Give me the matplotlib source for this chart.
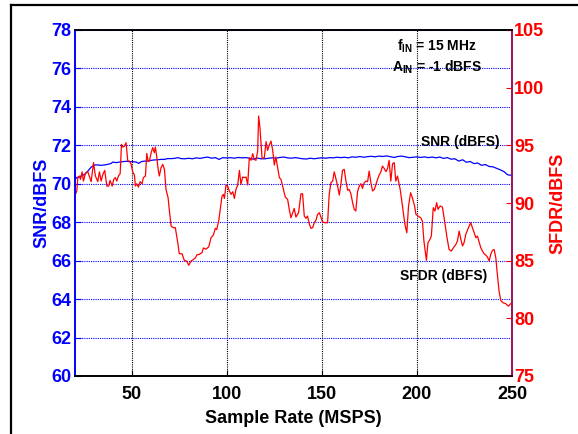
import matplotlib
matplotlib.use('Agg')
import matplotlib.pyplot as plt
from matplotlib.lines import Line2D

plt.rcParams['font.family'] = ['Liberation Sans', 'DejaVu Sans']
plt.rcParams['font.weight'] = 'bold'
plt.rcParams['axes.labelweight'] = 'bold'
plt.rcParams['mathtext.fontset'] = 'custom'
plt.rcParams['mathtext.rm'] = 'Liberation Sans:bold'
plt.rcParams['mathtext.bf'] = 'Liberation Sans:bold'

# SNR vs sample rate (left axis, dBFS)
snr_rate = [20, 21, 22.3, 23.5, 25.3, 27, 28.8, 30.5, 32.3, 34, 35.8, 37.5,
            39.3, 40.1, 41.9, 43.6, 45.4, 47.1, 48.9, 50.6, 52.4, 53.8, 55,
            56.8, 58.5, 60.3, 62, 63.8, 65.5, 67.3, 69, 70.8, 72.5, 74.3, 76,
            78, 80, 82, 84, 86, 88, 90, 92, 94, 96, 98, 100, 102, 104, 106,
            108, 110, 112, 114, 116, 118, 120, 122, 124, 126, 128, 130, 132,
            134, 136, 138, 140, 142, 144, 146, 148, 150, 152, 154, 156, 158,
            160, 162, 164, 166, 168, 170, 172, 174, 176, 178, 180, 182, 184,
            186, 188, 190, 192, 194, 196, 198, 200, 202, 204, 206, 208, 210,
            212, 214, 216, 218, 220, 222, 224, 226, 228, 230, 232, 234, 236,
            238, 240, 242, 244, 246, 247, 248, 250]
snr_db = [70.14, 70.32, 70.35, 70.4, 70.49, 70.66, 70.87, 70.98, 70.98, 70.96,
          70.98, 71.01, 71.06, 71.13, 71.1, 71.13, 71.15, 71.17, 71.15, 71.15,
          71.13, 71.06, 71.15, 71.18, 71.18, 71.22, 71.24, 71.25, 71.27, 71.27,
          71.31, 71.31, 71.32, 71.36, 71.31,
          71.3, 71.33, 71.3, 71.35, 71.32, 71.36, 71.39, 71.33, 71.36, 71.27,
          71.36, 71.34, 71.36, 71.33, 71.37, 71.35, 71.36, 71.33, 71.28, 71.34,
          71.3, 71.3, 71.33, 71.35, 71.33, 71.37, 71.39, 71.35, 71.33, 71.36,
          71.33, 71.3, 71.29, 71.33, 71.3, 71.33, 71.35, 71.33, 71.36, 71.35,
          71.38, 71.36, 71.38, 71.35, 71.4, 71.38, 71.42, 71.38, 71.41, 71.43,
          71.4, 71.44, 71.42, 71.45, 71.41, 71.37, 71.42, 71.44, 71.4, 71.36,
          71.38, 71.4, 71.37, 71.4, 71.36, 71.39, 71.35, 71.39, 71.32, 71.36,
          71.28, 71.3, 71.18, 71.25, 71.12, 71.16, 71.05, 71.08, 70.96, 71.0,
          70.9, 70.88, 70.8, 70.72, 70.62, 70.52, 70.46, 70.44]

# SFDR vs sample rate (right axis, dBFS)
sfdr_rate = [20, 20.5, 21.2, 21.75, 22.6, 23.15, 24.0, 24.7, 25.8, 27.0, 27.9,
             28.75, 30.0, 31.0, 32.25, 33.1, 34.0, 34.9, 35.9, 37.0, 38.0, 38.7,
             39.8, 40.65, 41.5, 42.2, 43.1, 44.0, 44.7, 45.4, 46.3, 47.1, 48.0,
             48.9, 49.8, 50.6, 51.5, 52.0, 52.7, 53.6, 54.5, 55.5, 56.2, 57.3,
             58.0, 58.7, 59.4, 60.3, 61.1, 62.0, 62.5, 63.2, 63.9, 64.6, 65.5,
             66.4, 67.3, 68.1, 69.2, 69.9, 70.8, 72.0, 73.0, 74.3, 75.1, 76.5,
             77.8, 79.0, 80.05, 81.3, 82.5, 83.6, 84.3, 85.65, 87.05, 87.75,
             89.15, 90.55, 91.8, 93.0, 94.05, 94.75, 95.8, 96.5, 97.55, 98.25,
             98.8, 99.65, 100.5, 101.4, 102.3, 103.2, 104.05, 104.9, 105.8,
             106.7, 107.5, 108.4, 109.3, 110.2, 111.05, 111.9, 112.8, 113.7,
             114.5, 115.4, 116.3, 116.8, 117.5, 118.6, 119.8, 120.7, 121.5,
             122.4, 123.3, 124.2, 125.05, 125.9, 126.8, 127.7, 128.55, 129.4,
             130.8, 132.05, 132.9, 133.8, 134.7, 135.5, 136.4, 137.8, 139.05,
             139.9, 140.8, 141.7, 142.5, 143.4, 144.3, 145.2, 146.05, 146.9,
             147.8, 148.7, 149.55, 150.4, 151.8, 153.05, 153.9, 154.8, 155.7,
             156.55, 157.4, 158.3, 159.2, 160.05, 160.9, 161.8, 162.7, 163.6,
             164.4, 165.3, 166.2, 167.06, 167.9, 168.8, 169.7, 170.6, 171.4,
             172.3, 173.2, 174.1, 174.9, 175.8, 176.7, 177.6, 178.4, 179.3,
             180.2, 181.1, 181.9, 182.8, 183.7, 184.6, 185.4, 186.3, 187.2,
             188.1, 188.9, 189.8, 191.3, 192.5, 193.7, 194.7, 195.6, 196.7,
             197.6, 198.8, 199.5, 200.6, 202.0, 202.9, 203.7, 205.0, 205.8,
             206.9, 207.6, 208.6, 209.5, 210.4, 211.1, 212.2, 213.4, 214.3,
             215.7, 216.9, 218.1, 219.2, 220.5, 221.3, 222.2, 223.1, 224.0,
             224.8, 225.7, 227.1, 228.3, 229.2, 230.1, 231.0, 231.8, 232.7,
             233.6, 234.5, 235.3, 236.2, 237.1, 238.0, 238.8, 239.7, 240.6,
             241.5, 242.3, 243.2, 244.1, 245.3, 246.7, 248.1, 249.3]
sfdr_db = [89.9, 90.75, 91.04, 92.2, 92.34, 92.05, 92.7, 91.9, 92.6, 92.7, 92.25,
           91.85, 93.5, 92.34, 91.85, 92.7, 91.9, 92.48, 92.83, 91.47, 91.47, 91.96,
           91.47, 92.05, 92.2, 91.9, 92.34, 92.54, 95.08, 94.85, 94.94, 95.23, 93.64,
           93.64, 93.35, 92.7, 92.43, 91.47, 91.67, 91.38, 91.85, 91.67, 92.2, 92.34,
           94.3, 93.64, 93.64, 94.36, 94.8, 94.36, 94.85, 94.07, 93.0, 92.34, 93.06,
           93.35, 92.9, 91.18, 90.46, 89.3, 88.0, 87.86, 87.86, 86.55, 85.6, 85.6,
           85.0, 84.97, 84.6, 84.97, 85.1, 85.25, 85.5, 85.55, 85.7, 86.1,
           86.0, 86.2, 87.0, 87.22, 87.8, 87.7, 88.43, 89.3, 90.6, 90.75,
           90.4, 91.56, 91.47, 91.04, 90.75, 90.98, 90.4, 91.18, 91.56,
           92.83, 91.62, 92.25, 92.2, 92.25, 91.56, 93.93, 93.7, 94.28,
           93.78, 93.7, 94.5, 97.54, 96.53, 93.87, 93.93, 95.32, 94.56,
           95.03, 95.37, 94.56, 93.29, 93.99, 93.06, 92.2, 92.05, 91.47,
           90.52, 90.31, 89.45, 88.72, 89.16, 89.53, 88.78, 89.16, 90.8,
           90.8, 88.87, 88.67, 88.87, 88.2, 87.8, 87.86, 88.29, 88.49,
           89.01, 89.16, 88.78, 88.35, 88.29, 88.29, 90.75, 91.76, 91.9,
           92.7, 92.13, 91.47, 90.69, 91.62, 92.83, 92.92, 91.9, 91.1,
           91.18, 90.8, 90.03, 89.45, 89.3, 90.98, 91.47, 91.67, 91.27,
           91.76, 91.9, 91.85, 92.77, 91.76, 91.04, 91.18, 91.56, 92.05,
           92.43, 92.72, 93.2, 93.0, 92.72, 93.0, 93.7, 91.9, 93.4,
           93.5, 91.9, 92.34, 91.1, 89.59, 88.15, 87.42, 89.74, 90.89,
           90.46, 89.74, 89.01, 88.87, 88.72, 88.43, 86.7, 85.03, 86.55,
           86.85, 87.13, 89.59, 89.3, 90.03, 89.45, 89.74, 89.65, 88.72,
           87.13, 85.98, 85.83, 86.12, 86.41, 86.7, 87.57, 86.85, 86.27,
           86.56, 87.28, 87.86, 88.29, 87.86, 87.42, 86.99, 87.13, 86.64,
           86.12, 85.83, 85.6, 85.49, 85.31, 84.97, 85.54, 85.89, 85.97,
           85.25, 83.81, 82.36, 81.55, 81.35, 81.27, 81.06, 81.27]

left_ticks = [60, 62, 64, 66, 68, 70, 72, 74, 76, 78]
right_ticks = [75, 80, 85, 90, 95, 100, 105]
x_ticks = [50, 100, 150, 200, 250]

blue = '#0000ff'
red = '#ff0000'
purple = '#a0105a'

fig = plt.figure(figsize=(5.78, 4.34), dpi=100)
ax = fig.add_axes([74.5 / 578, 1 - 376 / 434, 437.5 / 578, 346 / 434])
ax2 = ax.twinx()

ax.plot(snr_rate, snr_db, color=blue, lw=0.9)
ax2.plot(sfdr_rate, sfdr_db, color=red, lw=0.9)

ax.set_xlim(20, 250)
ax.set_ylim(60, 78)
ax2.set_ylim(75, 105)
ax.set_xticks(x_ticks)
ax.set_yticks(left_ticks)
ax2.set_yticks(right_ticks)

ax.yaxis.grid(True, color=blue, linestyle=(0, (1, 1)), lw=0.8)
ax.xaxis.grid(True, color='black', linestyle=(0, (1, 1)), lw=0.8)
ax.set_axisbelow(True)

ax.tick_params(axis='y', colors=blue, direction='in', length=4, labelsize=13, pad=2)
ax.tick_params(axis='x', colors='black', direction='in', length=4, labelsize=13, pad=7)
ax2.tick_params(axis='y', colors=red, direction='in', length=4, labelsize=13, pad=1.5)

for a in (ax, ax2):
    a.spines['top'].set_color('black')
    a.spines['bottom'].set_color('black')
    a.spines['left'].set_color(blue)
    a.spines['right'].set_color(purple)
    for s in a.spines.values():
        s.set_linewidth(1.2)

ax.set_xlabel('Sample Rate (MSPS)', fontsize=13, labelpad=5)
ax.set_ylabel('SNR/dBFS', fontsize=13, color=blue, labelpad=1)
ax2.set_ylabel('SFDR/dBFS', fontsize=13, color=red, labelpad=4)

ax.text(0.737, 0.952, r'f$_{\mathrm{IN}}$ = 15 MHz', transform=ax.transAxes,
        fontsize=10, ha='left', va='center')
ax.text(0.726, 0.892, r'A$_{\mathrm{IN}}$ = -1 dBFS', transform=ax.transAxes,
        fontsize=10, ha='left', va='center')
ax.text(0.791, 0.675, 'SNR (dBFS)', transform=ax.transAxes,
        fontsize=10, ha='left', va='center')
ax.text(0.744, 0.290, 'SFDR (dBFS)', transform=ax.transAxes,
        fontsize=10, ha='left', va='center')

# frame of the original figure (left and top edges)
fig.add_artist(Line2D([11 / 578, 11 / 578], [0, 1 - 4.5 / 434],
                      transform=fig.transFigure, color='black', lw=1.6))
fig.add_artist(Line2D([11 / 578, 1], [1 - 4.5 / 434, 1 - 4.5 / 434],
                      transform=fig.transFigure, color='black', lw=1.6))

fig.savefig('out.png', dpi=100)
